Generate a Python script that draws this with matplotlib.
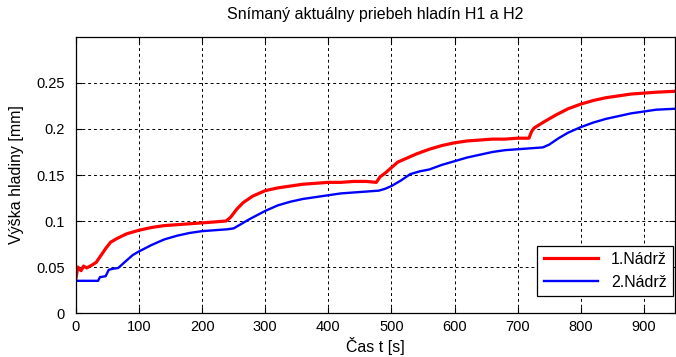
import matplotlib
matplotlib.use("Agg")
import matplotlib.pyplot as plt

plt.rcParams['font.family'] = ['Liberation Sans', 'DejaVu Sans']

# hladina v 1. nadrzi (cas [s], vyska [mm])
t_1 = [0, 3, 8, 12, 17, 25, 32, 40, 48, 55, 65, 80, 100, 120, 140, 160, 180, 200, 220, 238,
       245, 255, 265, 280, 300, 320, 340, 360, 380, 400, 420, 440, 460, 476,
       482, 490, 500, 510, 520, 540, 560, 580, 600, 620, 640, 660, 680, 700, 718,
       722, 726, 740, 760, 780, 800, 820, 840, 860, 880, 900, 920, 950]
h_1 = [0.038, 0.050, 0.046, 0.051, 0.049, 0.052, 0.055, 0.063, 0.071, 0.077, 0.081, 0.086,
       0.090, 0.093, 0.095, 0.096, 0.097, 0.098, 0.099, 0.100,
       0.104, 0.113, 0.120, 0.127, 0.133, 0.136, 0.138, 0.140, 0.141, 0.142, 0.142, 0.143,
       0.143, 0.142,
       0.148, 0.152, 0.158, 0.164, 0.167, 0.173, 0.178, 0.182, 0.185, 0.187, 0.188, 0.189,
       0.189, 0.190, 0.190,
       0.197, 0.201, 0.207, 0.215, 0.222, 0.227, 0.231, 0.234, 0.236, 0.238, 0.239, 0.240, 0.241]

# hladina v 2. nadrzi
t_2 = [0, 35, 38, 47, 52, 58, 67, 80, 90, 100, 120, 140, 160, 180, 200, 220, 240,
       250, 260, 275, 300, 320, 340, 360, 380, 400, 420, 440, 460, 480,
       490, 500, 515, 530, 545, 560, 580, 600, 620, 640, 660, 680, 700, 720, 740,
       750, 765, 780, 800, 820, 840, 860, 880, 900, 920, 950]
h_2 = [0.035, 0.035, 0.039, 0.040, 0.047, 0.048, 0.049, 0.057, 0.063, 0.067, 0.074, 0.080,
       0.084, 0.087, 0.089, 0.090, 0.091,
       0.092, 0.096, 0.102, 0.111, 0.117, 0.121, 0.124, 0.126, 0.128, 0.130, 0.131, 0.132,
       0.133,
       0.135, 0.138, 0.144, 0.151, 0.154, 0.156, 0.161, 0.165, 0.169, 0.172, 0.175, 0.177,
       0.178, 0.179, 0.180,
       0.183, 0.190, 0.196, 0.202, 0.207, 0.211, 0.214, 0.217, 0.219, 0.221, 0.222]

x_ticks = [0, 100, 200, 300, 400, 500, 600, 700, 800, 900]
y_ticks = [0, 0.05, 0.1, 0.15, 0.2, 0.25]
y_tick_labels = ["0", "0.05", "0.1", "0.15", "0.2", "0.25"]

fig = plt.figure(figsize=(6.76, 3.57), dpi=100)
ax = fig.add_axes([0.1124, 0.1232, 0.8866, 0.7732])

ax.plot(t_1, h_1, color="red", linewidth=2.3, label="1.Nádrž")
ax.plot(t_2, h_2, color="blue", linewidth=1.7, label="2.Nádrž")

ax.set_xlim(0, 950)
ax.set_ylim(0, 0.3)
ax.set_xticks(x_ticks)
ax.set_yticks(y_ticks)
ax.set_yticklabels(y_tick_labels)
ax.tick_params(direction="in", length=4, width=0.8, top=True, right=True,
               labelsize=10.5)
ax.tick_params(axis="x", pad=5)
ax.tick_params(axis="y", pad=8)
ax.grid(True, color="black", linestyle=(0, (3, 3)), linewidth=0.7)
for s in ax.spines.values():
    s.set_linewidth(0.9)

ax.set_title("Snímaný aktuálny priebeh hladín H1 a H2", fontsize=11.5, pad=13)
ax.set_xlabel("Čas t [s]", fontsize=11.5, labelpad=2)
ax.set_ylabel("Výška hladiny [mm]", fontsize=11.5, labelpad=9)

leg = ax.legend(loc="lower right", bbox_to_anchor=(0.996, 0.06), fontsize=11.5,
                fancybox=False, framealpha=1, edgecolor="black",
                handlelength=3.4, borderaxespad=0)
leg.get_frame().set_linewidth(0.9)

fig.savefig("out.png", dpi=100)
